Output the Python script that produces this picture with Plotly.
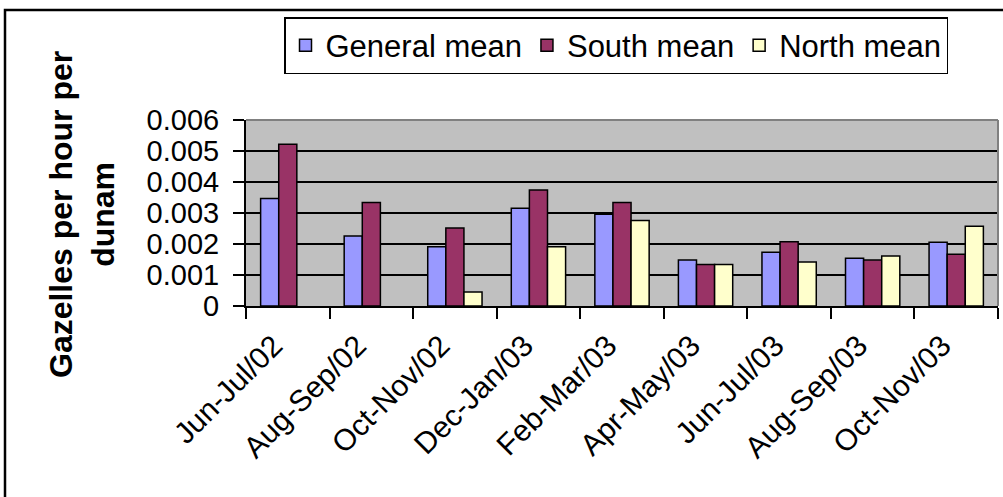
import plotly.graph_objects as go

# Bimonthly gazelle density by survey period
periods = ["Jun-Jul/02", "Aug-Sep/02", "Oct-Nov/02", "Dec-Jan/03", "Feb-Mar/03",
           "Apr-May/03", "Jun-Jul/03", "Aug-Sep/03", "Oct-Nov/03"]
general_mean = [0.00347, 0.00226, 0.00191, 0.00315, 0.00296, 0.00148, 0.00173, 0.00154, 0.00206]
south_mean = [0.00522, 0.00334, 0.00252, 0.00374, 0.00334, 0.00134, 0.00207, 0.00148, 0.00167]
north_mean = [None, None, 0.00045, 0.00191, 0.00276, 0.00134, 0.00142, 0.00161, 0.00257]
y_ticks = [0, 0.001, 0.002, 0.003, 0.004, 0.005, 0.006]
y_labels = ["0", "0.001", "0.002", "0.003", "0.004", "0.005", "0.006"]

FONT = "Liberation Sans, Arial, sans-serif"
W, H = 1003, 497
ML, MR, MT, MB = 246, 5, 120, 191

fig = go.Figure()
for name, vals, color in [("General mean", general_mean, "#9999FF"),
                          ("South mean", south_mean, "#993366"),
                          ("North mean", north_mean, "#FFFFCC")]:
    fig.add_trace(go.Bar(x=periods, y=vals, name=name,
                         marker=dict(color=color, line=dict(color="black", width=1.5))))

pw = W - ML - MR
ph = H - MT - MB


def px(x):
    return (x - ML) / pw


def py(y):
    return (H - MB - y) / ph


fig.update_layout(
    width=W, height=H,
    margin=dict(l=ML, r=MR, t=MT, b=MB),
    paper_bgcolor="white", plot_bgcolor="#C0C0C0",
    barmode="group", bargap=0.35, bargroupgap=0,
    font=dict(family=FONT, size=29, color="black"),
    showlegend=True,
    legend=dict(orientation="h", x=px(284), y=py(17), xanchor="left", yanchor="top",
                bgcolor="white", bordercolor="black", borderwidth=1.5,
                font=dict(size=31), itemwidth=30, tracegroupgap=0),
    xaxis=dict(type="category", tickangle=-45, showgrid=False,
               showline=True, linecolor="black", linewidth=2,
               ticks="outside", ticklen=11, tickwidth=2, tickcolor="black",
               tickson="boundaries", tickfont=dict(size=30),
               ticklabelstandoff=8, ticklabelshift=-14),
    yaxis=dict(range=[0, 0.006], tickvals=y_ticks, ticktext=y_labels,
               showgrid=True, gridcolor="black", gridwidth=1.5,
               showline=True, linecolor="black", linewidth=2,
               ticks="outside", ticklen=11, tickwidth=2, tickcolor="black",
               tickfont=dict(size=29), zeroline=False, ticklabelstandoff=8),
    shapes=[
        # plot-area frame on the top and right
        dict(type="line", xref="paper", yref="paper", x0=0, x1=1, y0=1, y1=1,
             line=dict(color="#808080", width=2)),
        dict(type="line", xref="paper", yref="paper", x0=1, x1=1, y0=0, y1=1,
             line=dict(color="#808080", width=2)),
        # outer chart frame
        dict(type="rect", xref="paper", yref="paper", x0=px(5), x1=px(1012),
             y0=py(520), y1=py(10), line=dict(color="black", width=2.5), layer="below"),
    ],
    annotations=[
        dict(text="<b>Gazelles per hour per<br>dunam</b>", textangle=-90,
             xref="paper", yref="paper", x=px(82), y=py(215), xanchor="center", yanchor="middle",
             showarrow=False, font=dict(size=32), align="center"),
    ],
)

fig.write_html("out.html")
